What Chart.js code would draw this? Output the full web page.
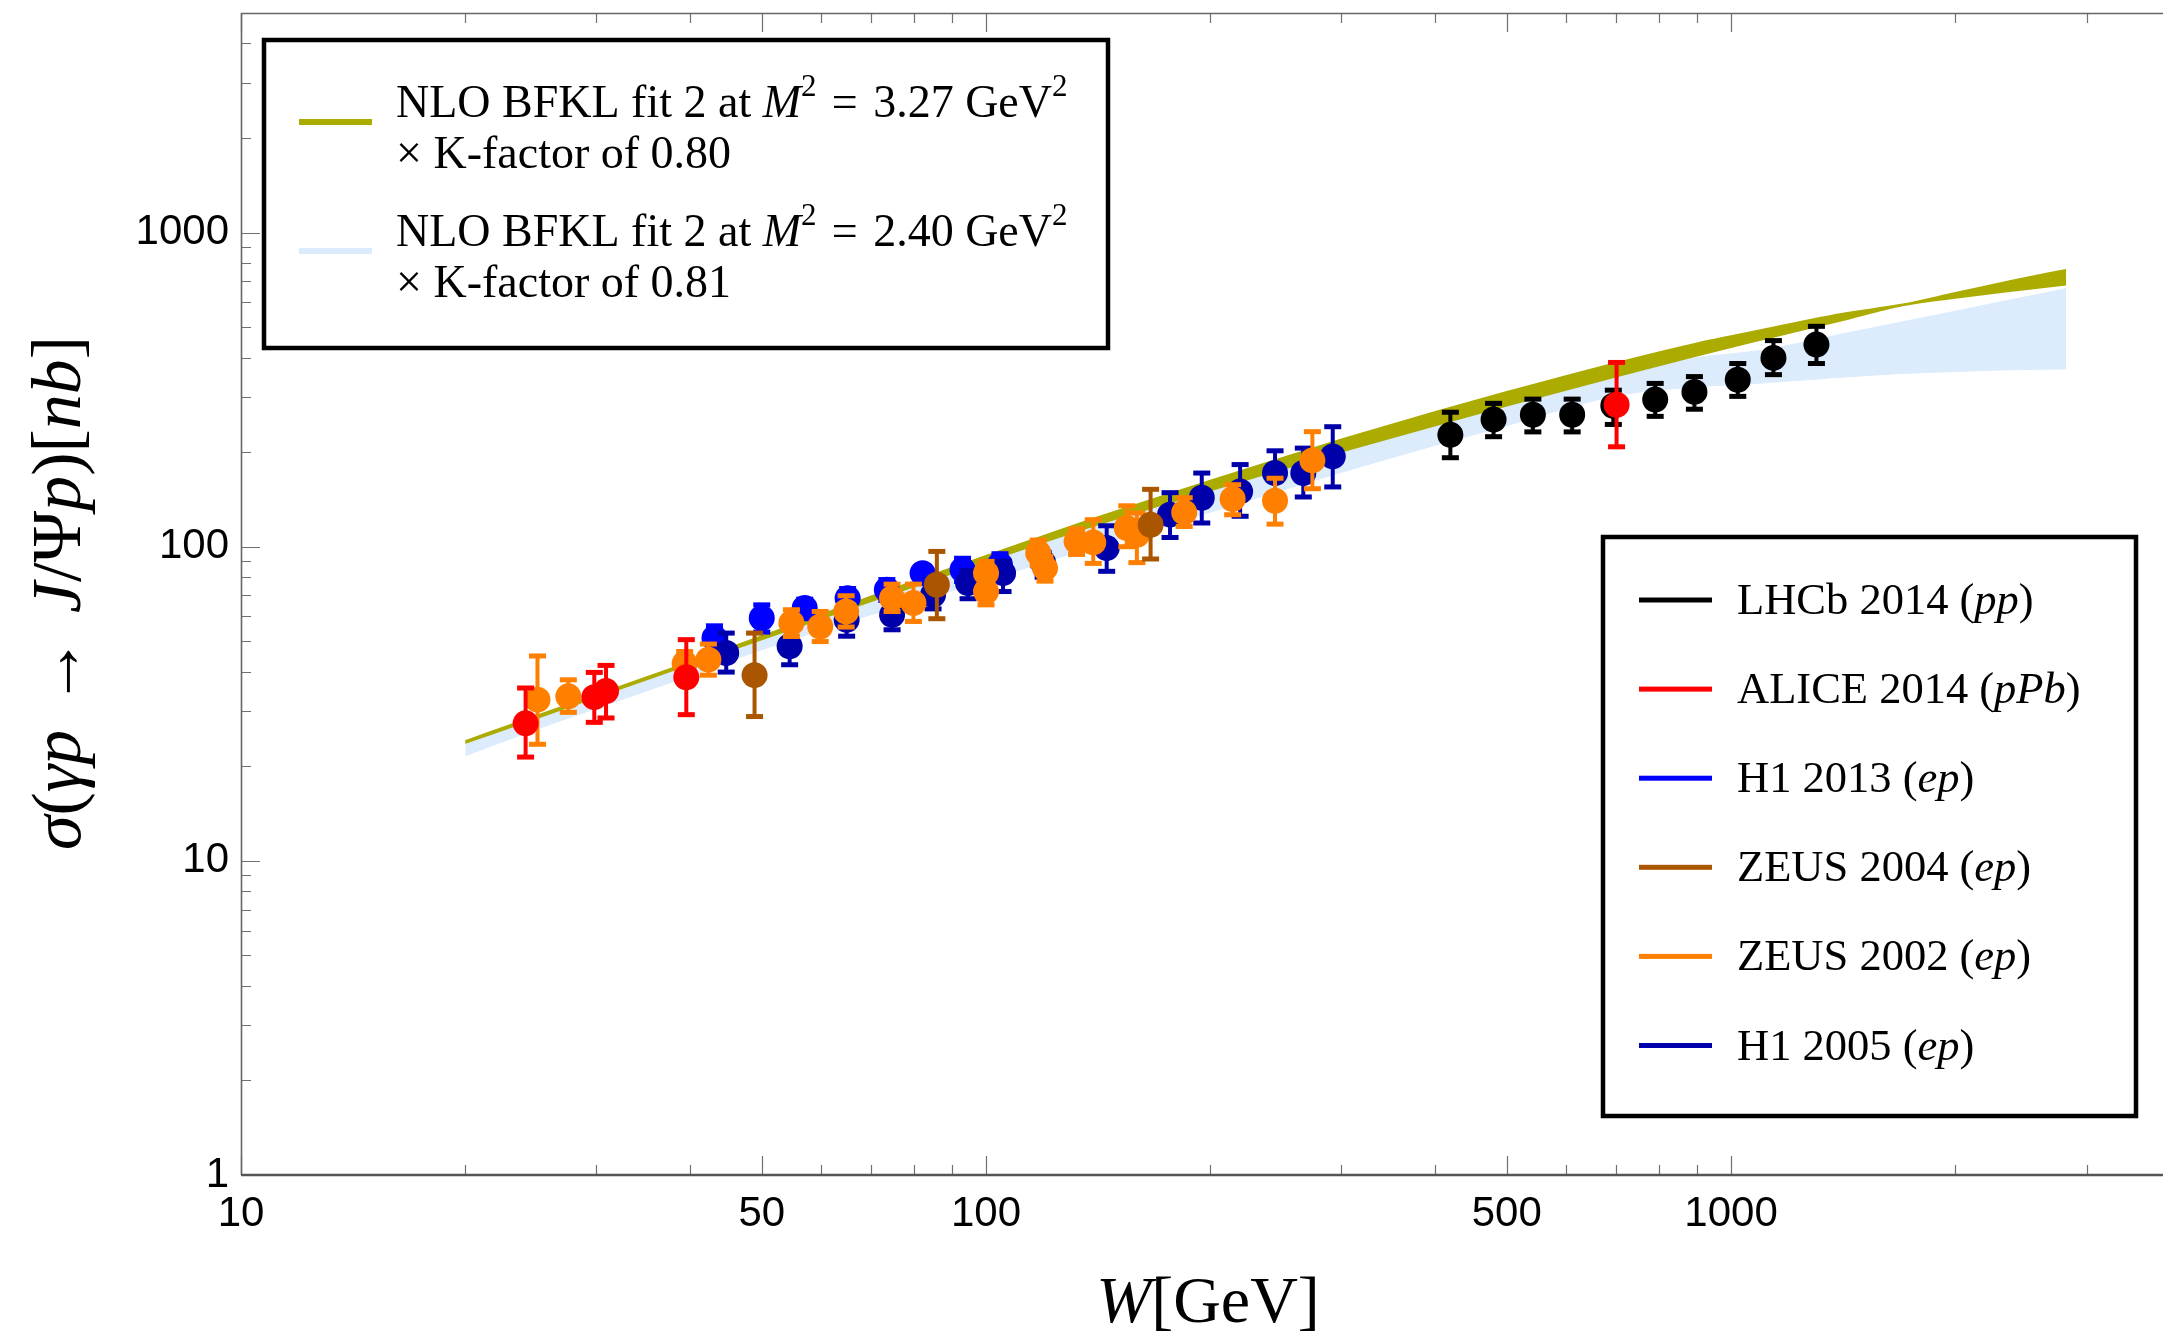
<!DOCTYPE html>
<html>
<head>
<meta charset="utf-8">
<script src="https://cdn.jsdelivr.net/npm/chart.js@4.4.1/dist/chart.umd.min.js"></script>
<style>
  html, body { margin: 0; padding: 0; background: #fff; }
  canvas { display: block; }
</style>
</head>
<body>
<canvas id="sigmaChart" width="2163" height="1337" style="width:2163px;height:1337px"></canvas>
<script>
// NLO BFKL bands
const bandW    = [20, 25, 30, 40, 50, 70, 100, 140, 200, 300, 400, 500, 700, 900, 1000, 1100, 1400, 1700, 2000, 2400, 2816];
const fit327Hi = [24.1, 29.1, 33.8, 43.0, 52.0, 69.4, 93.7, 123.4, 162.6, 219.8, 268.6, 311.2, 384.6, 444.6, 468.7, 491, 551, 591, 643, 706, 762];
const fit327Lo = [23.7, 28.5, 33.2, 42.2, 50.6, 66.9, 89.5, 116.7, 151.0, 200.5, 242.7, 281.2, 347.5, 405.5, 431.7, 456, 523, 586, 619, 653, 682];
const fit240Hi = [23.7, 28.5, 33.2, 42.2, 50.6, 66.9, 89.5, 116.7, 151.0, 200.5, 242.7, 281.2, 347.5, 400, 411, 422, 474, 520, 562, 614, 663];
const fit240Lo = [21.6, 26.3, 30.6, 38.8, 47.0, 60.7, 78.0, 100.3, 128.8, 172.5, 209.9, 243, 302, 323, 328, 332, 346, 356, 361, 366, 368];

// data points: W, sigma, upper and lower end of the error bar
const lhcbW     = [420, 480, 542, 612, 695, 791, 893, 1021, 1140, 1302];
const lhcbSigma = [227, 254, 263, 263, 281, 294, 311, 340, 399, 440];
const lhcbHi    = [268, 286, 295, 295, 315, 331, 348, 383, 453, 503];
const lhcbLo    = [192, 224, 232, 232, 245, 260, 274, 301, 353, 383];

const aliceW     = [24.1, 29.8, 30.9, 39.6, 702];
const aliceSigma = [27.4, 33.2, 34.7, 38.4, 283];
const aliceHi    = [35.5, 39.8, 41.9, 50.6, 386];
const aliceLo    = [21.4, 27.6, 28.5, 29.2, 208];

const h1_2013W     = [43.2, 50.0, 57.1, 65.2, 73.6, 82.2, 93.0, 104.4];
const h1_2013Sigma = [51.2, 59.3, 63.8, 68.6, 73.0, 82.4, 84.5, 87.6];
const h1_2013Hi    = [56.0, 65.3, 68.1, 73.6, 78.6, 87.0, 91.9, 95.0];
const h1_2013Lo    = [46.5, 53.5, 59.0, 63.5, 67.5, 77.5, 77.5, 80.5];

const zeus2004W     = [48.9, 85.9, 166.3];
const zeus2004Sigma = [39.0, 75.7, 117.5];
const zeus2004Hi    = [53.1, 96.6, 152.3];
const zeus2004Lo    = [28.8, 59.0, 91.4];

const zeus2002W     = [25.0, 27.5, 39.4, 42.4, 54.8, 59.9, 64.9, 74.8, 79.9, 100, 100, 117.5, 120, 132.3, 139.3, 154.5, 159.4, 184.5, 214.3, 244.3, 274.2];
const zeus2002Sigma = [32.6, 33.4, 42.5, 43.7, 57.2, 55.7, 62.2, 68.6, 66.2, 82.4, 72.0, 95.5, 85.5, 104, 103.2, 114.7, 109.1, 128.6, 141.9, 140.1, 188.3];
const zeus2002Hi    = [44.9, 37.7, 46.4, 49.0, 63.0, 62.2, 69.8, 76.0, 76.0, 89.8, 79.0, 105, 93.0, 114, 121.9, 135, 128, 143.2, 157.6, 165.2, 232.4];
const zeus2002Lo    = [23.5, 29.7, 38.5, 39.0, 51.8, 49.9, 55.5, 62.2, 57.8, 75.0, 65.3, 87.0, 77.7, 94.5, 88.5, 100, 89.0, 116, 126.4, 118, 153];

const h1_2005W     = [44.8, 54.5, 65.0, 74.8, 84.9, 94.6, 105.4, 119.3, 145.2, 176.6, 194.8, 219.3, 244.3, 266.6, 292];
const h1_2005Sigma = [45.9, 48.2, 58.5, 60.7, 70.3, 76.6, 82.4, 88.9, 99.0, 126.5, 143.2, 150, 171.7, 171.7, 193.9];
const h1_2005Hi    = [53.1, 55.0, 65.0, 67.0, 77.0, 84.0, 90.0, 96.0, 116.6, 148.6, 171.6, 182.6, 202, 206, 241];
const h1_2005Lo    = [39.9, 42.1, 51.9, 54.4, 63.4, 68.3, 72.0, 80.0, 83.5, 107, 119, 125, 145, 144, 155];

// axes
const xTicks = [10, 20, 30, 40, 50, 60, 70, 80, 90, 100, 200, 300, 400, 500, 600, 700, 800, 900, 1000, 2000, 3000];
const xLabels = [10, 50, 100, 500, 1000];
const yTicks = [1, 2, 3, 4, 5, 6, 7, 8, 9, 10, 20, 30, 40, 50, 60, 70, 80, 90, 100, 200, 300, 400, 500, 600, 700, 800, 900, 1000, 2000, 3000, 4000, 5000];
const yLabels = [1, 10, 100, 1000];

const OLIVE = '#abab00';
const LIGHTBLUE = 'rgb(220,236,252)';
const SERIF = '"Liberation Serif", "DejaVu Serif", serif';

function pts(xs, ys) {
  return xs.map((v, i) => ({ x: v, y: ys[i] }));
}

function series(label, color, xs, ys, hi, lo, order) {
  return {
    label: label,
    type: 'scatter',
    data: pts(xs, ys),
    errHi: hi,
    errLo: lo,
    backgroundColor: color,
    borderColor: color,
    pointRadius: 13,
    pointBorderWidth: 0,
    pointHoverRadius: 13,
    order: order
  };
}

function band(data, color, fill, width, order) {
  return {
    type: 'line',
    data: data,
    showLine: true,
    fill: fill,
    backgroundColor: color,
    borderColor: color,
    borderWidth: width,
    pointRadius: 0,
    cubicInterpolationMode: 'monotone',
    order: order
  };
}

// error bars go under each dataset's own markers
const errorBars = {
  id: 'errorBars',
  beforeDatasetDraw(chart, args) {
    const ds = chart.data.datasets[args.index];
    if (!ds.errHi) return;
    const ctx = chart.ctx;
    const x = chart.scales.x, y = chart.scales.y;
    ctx.save();
    ctx.fillStyle = ds.backgroundColor;
    ds.data.forEach((p, i) => {
      const px = x.getPixelForValue(p.x);
      const yHi = y.getPixelForValue(ds.errHi[i]);
      const yLo = y.getPixelForValue(ds.errLo[i]);
      ctx.fillRect(px - 2, yHi, 4, yLo - yHi);
      ctx.fillRect(px - 8.5, yHi - 2.5, 17, 5);
      ctx.fillRect(px - 8.5, yLo - 2.5, 17, 5);
    });
    ctx.restore();
  }
};

// frame with inward ticks like the original
const frameTicks = {
  id: 'frameTicks',
  afterDatasetsDraw(chart) {
    const ctx = chart.ctx, a = chart.chartArea;
    const x = chart.scales.x, y = chart.scales.y;
    ctx.save();
    ctx.strokeStyle = '#707070';
    ctx.lineWidth = 1.2;
    ctx.beginPath();
    xTicks.forEach(v => {
      const px = Math.round(x.getPixelForValue(v)) + 0.5;
      const len = xLabels.includes(v) ? 19 : 10;
      ctx.moveTo(px, a.bottom); ctx.lineTo(px, a.bottom - len);
      ctx.moveTo(px, a.top); ctx.lineTo(px, a.top + len);
    });
    yTicks.forEach(v => {
      const py = Math.round(y.getPixelForValue(v)) + 0.5;
      const len = yLabels.includes(v) ? 19 : 10;
      ctx.moveTo(a.left, py); ctx.lineTo(a.left + len, py);
    });
    ctx.stroke();
    ctx.strokeStyle = '#666';
    ctx.lineWidth = 1.6;
    ctx.beginPath();
    ctx.moveTo(a.left + 0.5, a.bottom); ctx.lineTo(a.left + 0.5, a.top + 0.5); ctx.lineTo(a.right, a.top + 0.5);
    ctx.stroke();
    ctx.strokeStyle = '#555';
    ctx.lineWidth = 2.5;
    ctx.beginPath();
    ctx.moveTo(a.left, a.bottom); ctx.lineTo(a.right, a.bottom);
    ctx.stroke();
    ctx.restore();
  }
};

// text with mixed roman / italic / superscript pieces
function runFont(style, size) {
  if (style === 'i') return 'italic ' + size + 'px ' + SERIF;
  if (style === 's') return Math.round(size * 0.68) + 'px ' + SERIF;
  return size + 'px ' + SERIF;
}

function drawRuns(ctx, runs, x, y, size, center) {
  let total = 0;
  runs.forEach(r => { ctx.font = runFont(r[1], size); total += ctx.measureText(r[0]).width; });
  let cx = center ? x - total / 2 : x;
  ctx.textBaseline = 'alphabetic';
  ctx.textAlign = 'left';
  runs.forEach(r => {
    ctx.font = runFont(r[1], size);
    const dy = r[1] === 's' ? -size * 0.45 : 0;
    ctx.fillText(r[0], cx, y + dy);
    cx += ctx.measureText(r[0]).width;
  });
}

const fitLegend = [
  { color: OLIVE, y: 122, lines: [
    [['NLO BFKL fit 2 at ', 'r'], ['M', 'i'], ['2', 's'], ['\u2004=\u20043.27 GeV', 'r'], ['2', 's']],
    [['\u00d7 K-factor of 0.80', 'r']] ] },
  { color: LIGHTBLUE, y: 251, lines: [
    [['NLO BFKL fit 2 at ', 'r'], ['M', 'i'], ['2', 's'], ['\u2004=\u20042.40 GeV', 'r'], ['2', 's']],
    [['\u00d7 K-factor of 0.81', 'r']] ] }
];

const dataLegend = [
  { color: '#000000', runs: [['LHCb 2014 (', 'r'], ['pp', 'i'], [')', 'r']] },
  { color: '#ff0000', runs: [['ALICE 2014 (', 'r'], ['pPb', 'i'], [')', 'r']] },
  { color: '#0000ff', runs: [['H1 2013 (', 'r'], ['ep', 'i'], [')', 'r']] },
  { color: '#aa5500', runs: [['ZEUS 2004 (', 'r'], ['ep', 'i'], [')', 'r']] },
  { color: '#ff8000', runs: [['ZEUS 2002 (', 'r'], ['ep', 'i'], [')', 'r']] },
  { color: '#0000aa', runs: [['H1 2005 (', 'r'], ['ep', 'i'], [')', 'r']] }
];

const textBits = {
  id: 'textBits',
  afterDraw(chart) {
    const ctx = chart.ctx;
    ctx.save();
    ctx.fillStyle = '#000';

    // axis titles
    drawRuns(ctx, [['W', 'i'], ['[GeV]', 'r']], 1208, 1322, 66, true);
    ctx.save();
    ctx.translate(80, 593);
    ctx.rotate(-Math.PI / 2);
    drawRuns(ctx, [['\u03c3', 'i'], ['(', 'r'], ['\u03b3p', 'i'], ['\u2004\u2192\u2004', 'r'], ['J', 'i'], ['/\u03a8', 'r'], ['p', 'i'], [')[', 'r'], ['nb', 'i'], [']', 'r']], 0, 0, 70, true);
    ctx.restore();

    // legend box for the fits
    ctx.fillStyle = '#fff';
    ctx.fillRect(262, 38, 848, 312);
    ctx.strokeStyle = '#000';
    ctx.lineWidth = 4.5;
    ctx.strokeRect(264, 40, 844, 308);
    fitLegend.forEach(e => {
      ctx.fillStyle = e.color;
      ctx.fillRect(299, e.y - 3, 73, 6);
      ctx.fillStyle = '#000';
      drawRuns(ctx, e.lines[0], 396, e.y - 5, 46, false);
      drawRuns(ctx, e.lines[1], 396, e.y + 46, 46, false);
    });

    // legend box for the measurements
    ctx.fillStyle = '#fff';
    ctx.fillRect(1601, 535, 537, 583);
    ctx.strokeRect(1603, 537, 533, 579);
    dataLegend.forEach((e, i) => {
      const yy = 600 + i * 89.1;
      ctx.fillStyle = e.color;
      ctx.fillRect(1639, yy - 2.5, 73, 5);
      ctx.fillStyle = '#000';
      drawRuns(ctx, e.runs, 1737, yy + 14, 44.5, false);
    });
    ctx.restore();
  }
};

// drop the label overhang chart.js reserves so the frame matches the original
function noOverhang(s) {
  s.paddingTop = 0; s.paddingBottom = 0; s.paddingLeft = 0; s.paddingRight = 0;
}

const ctx = document.getElementById('sigmaChart').getContext('2d');
const chart = new Chart(ctx, {
  type: 'scatter',
  data: {
    datasets: [
      band(pts(bandW, fit240Hi), LIGHTBLUE, '+1', 1, 10),
      band(pts(bandW, fit240Lo), LIGHTBLUE, false, 1, 11),
      band(pts(bandW, fit327Hi), OLIVE, '+1', 1.5, 8),
      band(pts(bandW, fit327Lo), OLIVE, false, 1.5, 9),
      series('LHCb 2014 (pp)', '#000000', lhcbW, lhcbSigma, lhcbHi, lhcbLo, 6),
      series('ALICE 2014 (pPb)', '#ff0000', aliceW, aliceSigma, aliceHi, aliceLo, 1),
      series('H1 2013 (ep)', '#0000ff', h1_2013W, h1_2013Sigma, h1_2013Hi, h1_2013Lo, 5),
      series('ZEUS 2004 (ep)', '#aa5500', zeus2004W, zeus2004Sigma, zeus2004Hi, zeus2004Lo, 2),
      series('ZEUS 2002 (ep)', '#ff8000', zeus2002W, zeus2002Sigma, zeus2002Hi, zeus2002Lo, 3),
      series('H1 2005 (ep)', '#0000aa', h1_2005W, h1_2005Sigma, h1_2005Hi, h1_2005Lo, 4)
    ]
  },
  options: {
    responsive: false,
    animation: false,
    devicePixelRatio: 1,
    // no extra room for the markers, the frame runs to the right edge
    layout: { autoPadding: false, padding: { left: 0, top: 13, right: 0, bottom: 0 } },
    plugins: { legend: { display: false }, tooltip: { enabled: false } },
    scales: {
      x: {
        type: 'logarithmic',
        min: 10,
        max: 3800,
        grid: { display: false, drawTicks: false },
        border: { display: false },
        afterFit: (s) => { s.height = 162; noOverhang(s); },
        afterBuildTicks: (s) => { s.ticks = xTicks.map(v => ({ value: v })); },
        ticks: {
          autoSkip: false,
          maxRotation: 0,
          padding: 14,
          color: '#000',
          font: { family: '"Liberation Sans", Arial, sans-serif', size: 42 },
          callback: (v) => xLabels.includes(v) ? String(v) : ''
        }
      },
      y: {
        type: 'logarithmic',
        min: 1,
        max: 5000,
        grid: { display: false, drawTicks: false },
        border: { display: false },
        afterFit: (s) => { s.width = 241; noOverhang(s); },
        afterBuildTicks: (s) => { s.ticks = yTicks.map(v => ({ value: v })); },
        ticks: {
          autoSkip: false,
          padding: 12,
          color: '#000',
          font: { family: '"Liberation Sans", Arial, sans-serif', size: 42 },
          callback: (v) => yLabels.includes(v) ? String(v) : ''
        }
      }
    }
  },
  plugins: [errorBars, frameTicks, textBits]
});
</script>
</body>
</html>
